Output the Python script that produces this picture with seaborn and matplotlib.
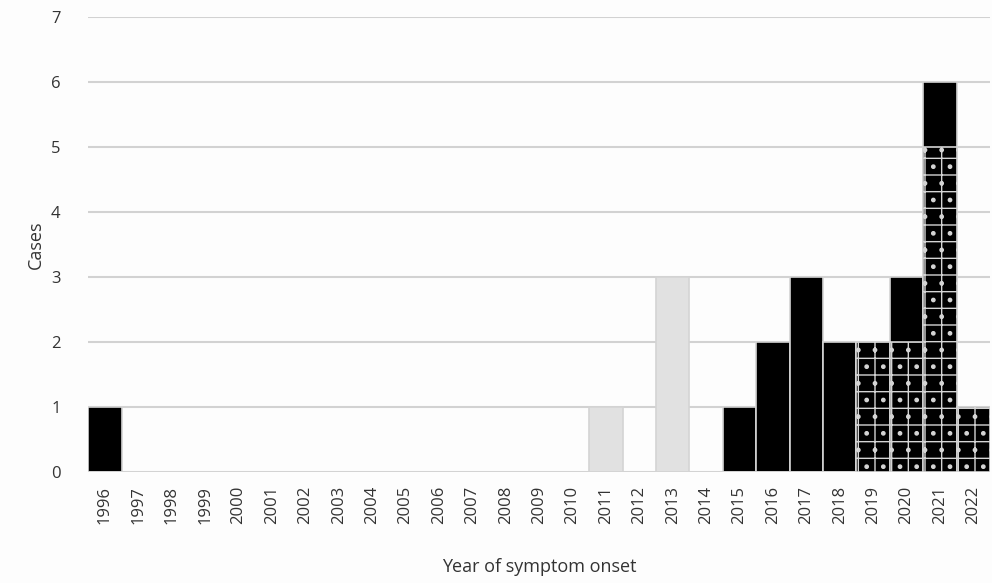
import matplotlib
matplotlib.use("Agg")
import matplotlib.pyplot as plt
import pandas as pd
import seaborn as sns

years = [str(y) for y in range(1996, 2023)]
# cases per year, split into the three groups shown in the chart
solid_cases = [1, 0, 0, 0, 0, 0, 0, 0, 0, 0, 0, 0, 0, 0, 0, 0, 0, 0, 0,
               1, 2, 3, 2, 0, 1, 1, 0]
grey_cases = [0, 0, 0, 0, 0, 0, 0, 0, 0, 0, 0, 0, 0, 0, 0, 1, 0, 3, 0,
              0, 0, 0, 0, 0, 0, 0, 0]
dotted_cases = [0, 0, 0, 0, 0, 0, 0, 0, 0, 0, 0, 0, 0, 0, 0, 0, 0, 0, 0,
                0, 0, 0, 0, 2, 2, 5, 1]

df = pd.DataFrame({"year": years, "solid": solid_cases,
                   "grey": grey_cases, "dotted": dotted_cases})
df["solid_total"] = df["solid"] + df["dotted"]

sns.set_theme(style="white")
plt.rcParams["font.family"] = ["Open Sans", "DejaVu Sans"]
plt.rcParams["hatch.color"] = "#c8c8c8"
plt.rcParams["hatch.linewidth"] = 1.0

fig, ax = plt.subplots(figsize=(9.92, 5.83), dpi=100)
fig.patch.set_facecolor("#fdfdfd")
ax.set_facecolor("#fdfdfd")

edge = "#d4d4d4"
# stacked bars: draw totals first, then the lower segment over it
sns.barplot(data=df, x="year", y="solid_total", color="black", width=1.0,
            edgecolor=edge, linewidth=1.2, saturation=1, ax=ax, zorder=3)
sns.barplot(data=df, x="year", y="grey", color="#e1e1e1", width=1.0,
            edgecolor=edge, linewidth=1.2, saturation=1, ax=ax, zorder=3)
sns.barplot(data=df, x="year", y="dotted", color="black", width=1.0,
            edgecolor=edge, linewidth=1.2, saturation=1, hatch="+.",
            ax=ax, zorder=4)

ax.set_ylim(0, 7)
ax.set_xlim(-0.5, len(years) - 0.5)
ax.set_yticks(range(0, 8))
ax.yaxis.grid(True, color="#d2d2d2", linewidth=1.5, zorder=0)
ax.set_axisbelow(True)
sns.despine(ax=ax, left=True, bottom=True)
ax.tick_params(axis="both", length=0, labelsize=12, colors="#333333")
ax.tick_params(axis="y", pad=20)
ax.tick_params(axis="x", pad=10)
plt.xticks(rotation=90)

ax.set_ylabel("Cases", fontsize=13, color="#333333", labelpad=4)
ax.set_xlabel("Year of symptom onset", fontsize=13, color="#333333",
              labelpad=24)

plt.subplots_adjust(left=0.089, right=0.998, top=0.971, bottom=0.19)
fig.savefig("out.png", dpi=100, facecolor=fig.get_facecolor())
